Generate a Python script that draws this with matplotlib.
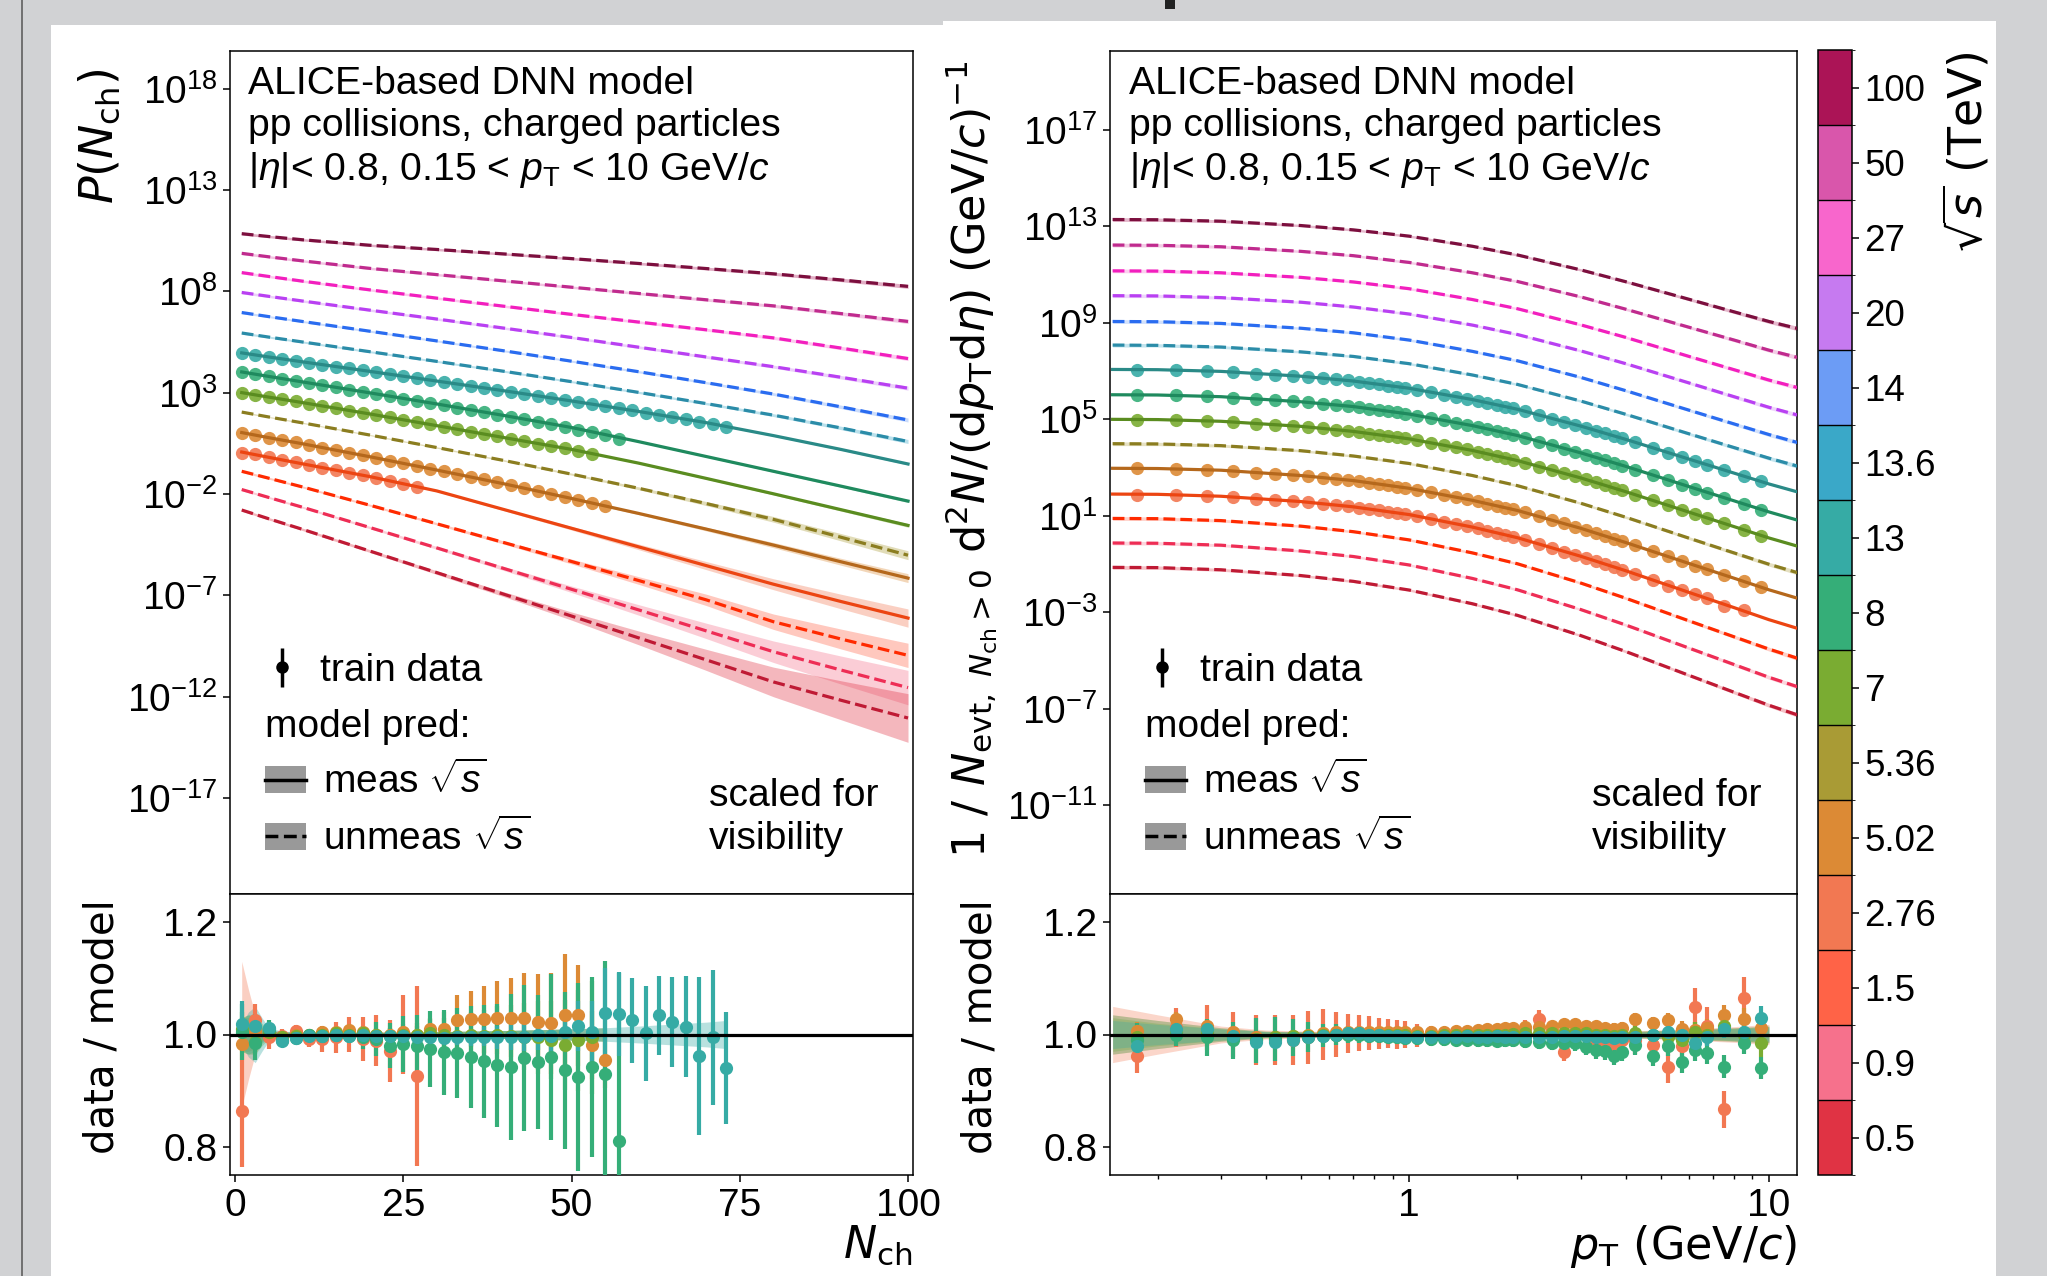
import numpy as np
import matplotlib
matplotlib.use("Agg")
import matplotlib.pyplot as plt
from matplotlib import ticker
from matplotlib.colors import ListedColormap, BoundaryNorm
from matplotlib.cm import ScalarMappable
from matplotlib.patches import Rectangle, Patch
from matplotlib.lines import Line2D

plt.rcParams['font.family'] = ['Liberation Sans', 'DejaVu Sans']
plt.rcParams['mathtext.fontset'] = 'custom'
plt.rcParams['mathtext.rm'] = 'Liberation Sans'
plt.rcParams['mathtext.it'] = 'Liberation Sans:italic'
plt.rcParams['mathtext.bf'] = 'Liberation Sans:bold'
plt.rcParams['mathtext.sf'] = 'Liberation Sans'

# ---------------- data ----------------
ENERGY_LABELS = ['100', '50', '27', '20', '14', '13.6', '13', '8', '7', '5.36', '5.02', '2.76', '1.5', '0.9', '0.5']
MEASURED = [False, False, False, False, False, False, True, True, True, False, True, True, False, False, False]
BAR_COLORS = ['#ab1456', '#d956ab', '#f866cc', '#c67af0', '#6c9cf5', '#3aa8c8', '#36aba5', '#35ae78',
              '#7aac32', '#a99b35', '#dc8a35', '#f27852', '#ff6347', '#f6718c', '#e03344']
LINE_COLORS = ['#7c0f3e', '#c02b8e', '#f21fbe', '#b940f2', '#2a6cf0', '#2b8ca8', '#2a8a87', '#1f8a5e',
               '#5a8c20', '#8b7d20', '#b5681c', '#ec4512', '#ff2a00', '#ee2d55', '#bf1a34']

# multiplicity distributions, log10 P(Nch) (scaled for visibility)
NCH_KNOTS = [1, 5, 10, 20, 30, 40, 50, 60, 70, 80, 90, 100]
NCH_E100 = [10.84, 10.70, 10.54, 10.27, 10.06, 9.84, 9.61, 9.37, 9.12, 8.86, 8.56, 8.24]
NCH_E50 = [9.87, 9.70, 9.50, 9.13, 8.82, 8.51, 8.20, 7.89, 7.58, 7.28, 6.90, 6.51]
NCH_E27 = [8.92, 8.73, 8.50, 8.07, 7.66, 7.26, 6.86, 6.48, 6.10, 5.70, 5.20, 4.68]
NCH_E20 = [7.94, 7.75, 7.52, 7.07, 6.63, 6.18, 5.72, 5.24, 4.76, 4.28, 3.76, 3.22]
NCH_E14 = [6.95, 6.75, 6.51, 6.03, 5.55, 5.06, 4.55, 4.03, 3.49, 2.93, 2.30, 1.65]
NCH_E136 = [5.94, 5.74, 5.50, 5.02, 4.54, 4.05, 3.54, 3.01, 2.46, 1.89, 1.26, 0.59]
NCH_E13 = [4.96, 4.76, 4.52, 4.05, 3.57, 3.09, 2.59, 2.07, 1.52, 0.88, 0.20, -0.52]
NCH_E8 = [4.02, 3.80, 3.53, 2.99, 2.44, 1.87, 1.28, 0.58, -0.15, -0.88, -1.61, -2.35]
NCH_E7 = [3.00, 2.78, 2.51, 1.95, 1.37, 0.78, 0.20, -0.48, -1.23, -1.99, -2.77, -3.55]
NCH_E536 = [2.04, 1.80, 1.51, 0.91, 0.29, -0.35, -1.02, -1.72, -2.47, -3.25, -4.13, -5.02]
NCH_E502 = [1.03, 0.78, 0.48, -0.16, -0.82, -1.50, -2.22, -2.96, -3.73, -4.52, -5.34, -6.15]
NCH_E276 = [0.07, -0.19, -0.51, -1.14, -1.85, -2.77, -3.69, -4.61, -5.53, -6.45, -7.30, -8.12]
NCH_E15 = [-0.88, -1.22, -1.65, -2.55, -3.47, -4.40, -5.33, -6.27, -7.22, -8.30, -9.15, -9.96]
NCH_E09 = [-1.78, -2.17, -2.65, -3.65, -4.66, -5.68, -6.70, -7.72, -8.75, -9.78, -10.68, -11.55]
NCH_E05 = [-2.79, -3.22, -3.74, -4.81, -5.88, -6.95, -8.02, -9.10, -10.18, -11.27, -12.17, -13.05]

# model uncertainty half-widths (decades)
NCH_BAND_HIGH = [0.07, 0.06, 0.06, 0.06, 0.06, 0.06, 0.06, 0.065, 0.07, 0.075, 0.085, 0.1]
NCH_BAND_14 = [0.06, 0.05, 0.05, 0.05, 0.05, 0.05, 0.05, 0.055, 0.06, 0.07, 0.085, 0.1]
NCH_BAND_13 = [0.03, 0.02, 0.02, 0.02, 0.02, 0.02, 0.02, 0.025, 0.03, 0.035, 0.04, 0.05]
NCH_BAND_8 = [0.03, 0.02, 0.02, 0.02, 0.02, 0.02, 0.025, 0.03, 0.035, 0.045, 0.055, 0.07]
NCH_BAND_7 = [0.03, 0.02, 0.02, 0.02, 0.02, 0.02, 0.025, 0.03, 0.04, 0.055, 0.07, 0.09]
NCH_BAND_536 = [0.04, 0.03, 0.03, 0.03, 0.035, 0.04, 0.05, 0.07, 0.1, 0.14, 0.18, 0.22]
NCH_BAND_502 = [0.03, 0.02, 0.02, 0.02, 0.025, 0.03, 0.04, 0.06, 0.09, 0.13, 0.17, 0.22]
NCH_BAND_276 = [0.05, 0.03, 0.03, 0.03, 0.04, 0.06, 0.09, 0.14, 0.2, 0.27, 0.36, 0.45]
NCH_BAND_15 = [0.06, 0.05, 0.05, 0.05, 0.06, 0.08, 0.12, 0.19, 0.28, 0.38, 0.49, 0.6]
NCH_BAND_09 = [0.06, 0.05, 0.05, 0.06, 0.07, 0.1, 0.16, 0.26, 0.38, 0.53, 0.69, 0.85]
NCH_BAND_05 = [0.06, 0.06, 0.06, 0.07, 0.09, 0.12, 0.2, 0.34, 0.52, 0.73, 0.96, 1.2]

# pT spectra, log10 of yield (scaled for visibility)
PT_KNOTS = [0.15, 0.2, 0.3, 0.5, 0.7, 1.0, 1.5, 2.0, 3.0, 4.0, 6.0, 8.0, 10.0, 12.0]
PT_E100 = [13.29, 13.28, 13.22, 13.04, 12.86, 12.60, 12.18, 11.82, 11.20, 10.71, 9.98, 9.46, 9.06, 8.77]
PT_E50 = [12.23, 12.22, 12.16, 11.97, 11.79, 11.51, 11.08, 10.72, 10.08, 9.57, 8.82, 8.29, 7.87, 7.57]
PT_E27 = [11.16, 11.15, 11.08, 10.89, 10.70, 10.42, 9.97, 9.59, 8.92, 8.40, 7.61, 7.06, 6.63, 6.32]
PT_E20 = [10.13, 10.12, 10.05, 9.86, 9.66, 9.37, 8.91, 8.52, 7.84, 7.31, 6.51, 5.94, 5.50, 5.18]
PT_E14 = [9.06, 9.05, 8.98, 8.78, 8.59, 8.29, 7.82, 7.43, 6.74, 6.19, 5.38, 4.81, 4.37, 4.04]
PT_E136 = [8.08, 8.07, 8.00, 7.80, 7.61, 7.31, 6.84, 6.45, 5.76, 5.21, 4.40, 3.83, 3.39, 3.06]
PT_E13 = [7.07, 7.06, 6.99, 6.79, 6.59, 6.29, 5.82, 5.42, 4.72, 4.17, 3.35, 2.77, 2.32, 1.99]
PT_E8 = [6.02, 6.01, 5.94, 5.73, 5.53, 5.22, 4.74, 4.33, 3.61, 3.05, 2.21, 1.62, 1.16, 0.82]
PT_E7 = [5.00, 4.99, 4.92, 4.71, 4.50, 4.19, 3.71, 3.29, 2.57, 2.00, 1.15, 0.55, 0.08, -0.26]
PT_E536 = [3.99, 3.98, 3.91, 3.70, 3.48, 3.17, 2.67, 2.25, 1.52, 0.94, 0.07, -0.54, -1.01, -1.36]
PT_E502 = [2.97, 2.96, 2.89, 2.67, 2.46, 2.14, 1.64, 1.22, 0.48, -0.11, -0.98, -1.59, -2.07, -2.42]
PT_E276 = [1.90, 1.89, 1.81, 1.59, 1.37, 1.05, 0.53, 0.09, -0.68, -1.28, -2.18, -2.81, -3.31, -3.67]
PT_E15 = [0.89, 0.88, 0.80, 0.57, 0.34, 0.00, -0.54, -0.99, -1.79, -2.42, -3.36, -4.02, -4.53, -4.91]
PT_E09 = [-0.13, -0.14, -0.22, -0.46, -0.69, -1.04, -1.60, -2.07, -2.89, -3.53, -4.49, -5.17, -5.70, -6.09]
PT_E05 = [-1.14, -1.15, -1.24, -1.48, -1.72, -2.08, -2.65, -3.13, -3.97, -4.63, -5.62, -6.32, -6.86, -7.26]
PT_BAND_MEAS = [0.03, 0.02, 0.01, 0.008, 0.008, 0.008, 0.008, 0.008, 0.01, 0.012, 0.015, 0.02, 0.025, 0.03]
PT_BAND_UNMEAS = [0.08, 0.07, 0.06, 0.05, 0.05, 0.05, 0.05, 0.05, 0.05, 0.055, 0.06, 0.07, 0.08, 0.09]

# training data: data / model ratios (multiplicity)
NCH_N_13 = [1, 3, 5, 7, 9, 11, 13, 15, 17, 19, 21, 23, 25, 27, 29, 31, 33, 35, 37, 39, 41, 43, 45, 47, 49,
            51, 53, 55, 57, 59, 61, 63, 65, 67, 69, 71, 73]
NCH_RATIO_13 = [1.019, 1.016, 1.012, 0.989, 0.994, 0.998, 0.998, 1.000, 0.998, 1.000, 0.998, 0.997, 0.998,
                0.996, 0.995, 0.994, 0.995, 0.995, 0.996, 0.995, 0.995, 0.996, 1.000, 0.998, 1.005, 1.015,
                1.005, 1.038, 1.036, 1.025, 1.002, 1.034, 1.022, 1.014, 0.962, 0.995, 0.940]
NCH_ERR_13 = [0.04, 0.02, 0.01, 0.006, 0.005, 0.005, 0.005, 0.005, 0.005, 0.006, 0.006, 0.007, 0.008, 0.009,
              0.01, 0.011, 0.013, 0.015, 0.017, 0.02, 0.022, 0.025, 0.028, 0.032, 0.036, 0.045, 0.055, 0.08,
              0.075, 0.075, 0.085, 0.07, 0.08, 0.09, 0.14, 0.12, 0.1]
NCH_N_8 = [1, 3, 5, 7, 9, 11, 13, 15, 17, 19, 21, 23, 25, 27, 29, 31, 33, 35, 37, 39, 41, 43, 45, 47, 49,
           51, 53, 55, 57]
NCH_RATIO_8 = [1.005, 0.985, 1.010, 0.990, 0.993, 1.000, 0.998, 1.000, 0.998, 0.995, 0.992, 0.980, 0.983,
               0.980, 0.974, 0.968, 0.967, 0.960, 0.952, 0.945, 0.942, 0.958, 0.951, 0.960, 0.936, 0.925,
               0.942, 0.930, 0.810]
NCH_ERR_8 = [0.05, 0.03, 0.015, 0.01, 0.01, 0.01, 0.01, 0.01, 0.012, 0.02, 0.03, 0.04, 0.05, 0.055, 0.068,
             0.075, 0.08, 0.09, 0.1, 0.11, 0.13, 0.13, 0.12, 0.147, 0.14, 0.167, 0.16, 0.2, 0.3]
NCH_N_7 = [1, 3, 5, 7, 9, 11, 13, 15, 17, 19, 21, 23, 25, 27, 29, 31, 33, 35, 37, 39, 41, 43, 45, 47, 49,
           51, 53]
NCH_RATIO_7 = [1.010, 0.986, 1.005, 0.995, 0.998, 1.000, 1.000, 1.002, 1.000, 1.002, 1.000, 0.998, 1.000,
               1.000, 1.002, 1.000, 0.998, 1.000, 0.998, 1.000, 0.998, 0.996, 0.995, 0.990, 0.982, 0.990,
               0.995]
NCH_ERR_7 = [0.03, 0.02, 0.01, 0.008, 0.008, 0.008, 0.008, 0.008, 0.009, 0.01, 0.011, 0.013, 0.016, 0.02,
             0.025, 0.03, 0.035, 0.04, 0.045, 0.05, 0.055, 0.06, 0.065, 0.07, 0.08, 0.09, 0.1]
NCH_N_502 = [1, 3, 5, 7, 9, 11, 13, 15, 17, 19, 21, 23, 25, 27, 29, 31, 33, 35, 37, 39, 41, 43, 45, 47, 49,
             51, 53, 55]
NCH_RATIO_502 = [0.983, 1.005, 1.005, 0.990, 1.000, 1.000, 1.005, 1.005, 1.008, 1.005, 1.000, 1.000, 1.005,
                 1.000, 1.010, 1.010, 1.026, 1.028, 1.027, 1.030, 1.030, 1.030, 1.022, 1.020, 1.034, 1.034,
                 0.981, 0.954]
NCH_ERR_502 = [0.02, 0.01, 0.008, 0.006, 0.006, 0.006, 0.006, 0.007, 0.008, 0.009, 0.01, 0.012, 0.013, 0.015,
               0.02, 0.03, 0.045, 0.05, 0.06, 0.065, 0.07, 0.08, 0.085, 0.09, 0.11, 0.09, 0.06, 0.05]
NCH_N_276 = [1, 3, 5, 7, 9, 11, 13, 15, 17, 19, 21, 23, 25, 27]
NCH_RATIO_276 = [0.864, 1.025, 0.995, 0.998, 1.007, 0.992, 0.992, 0.995, 1.000, 0.992, 0.989, 0.970, 1.000, 0.926]
NCH_ERR_276 = [0.1, 0.03, 0.02, 0.012, 0.01, 0.015, 0.024, 0.028, 0.031, 0.04, 0.045, 0.055, 0.07, 0.16]

# ratio-panel model bands (multiplicity)
NCH_RB_N = [1, 2, 3, 4, 5, 7, 10, 20, 27, 30, 40, 50, 55, 60, 70, 73]
NCH_RB_13 = [0.02, 0.04, 0.05, 0.03, 0.012, 0.006, 0.004, 0.004, 0.004, 0.005, 0.007, 0.01, 0.012, 0.015, 0.022, 0.025]
NCH_RB_8 = [0.03, 0.035, 0.03, 0.015, 0.008, 0.005, 0.004, 0.004, 0.004, 0.005, 0.007, 0.01, 0.012]
NCH_RB_7 = [0.03, 0.035, 0.035, 0.02, 0.008, 0.005, 0.004, 0.004, 0.004, 0.005, 0.007, 0.01]
NCH_RB_502 = [0.03, 0.03, 0.025, 0.012, 0.006, 0.004, 0.004, 0.004, 0.004, 0.005, 0.007, 0.01, 0.012]
NCH_RB_276 = [0.13, 0.08, 0.035, 0.012, 0.006, 0.004, 0.004, 0.004, 0.005]

# training data: data / model ratios (pT)
PT_CENTERS = [0.175, 0.225, 0.275, 0.325, 0.375, 0.425, 0.475, 0.525, 0.575, 0.625, 0.675, 0.725, 0.775,
              0.825, 0.875, 0.925, 0.975, 1.05, 1.15, 1.25, 1.35, 1.45, 1.55, 1.65, 1.75, 1.85, 1.95,
              2.1, 2.3, 2.5, 2.7, 2.9, 3.1, 3.3, 3.5, 3.7, 3.9, 4.25, 4.75, 5.25, 5.75, 6.25, 6.75,
              7.5, 8.5, 9.5]
PT_RATIO_13 = [0.979, 1.010, 1.010, 0.998, 0.986, 0.986, 0.990, 0.996, 0.998, 1.000, 1.002, 1.002, 1.000,
               1.000, 0.998, 0.998, 0.996, 0.995, 0.995, 0.996, 0.996, 0.997, 0.996, 0.996, 0.997, 0.996,
               0.996, 0.995, 0.995, 0.996, 0.997, 0.998, 0.997, 0.996, 0.995, 0.994, 0.995, 0.995, 1.000,
               1.005, 1.000, 0.985, 0.995, 1.009, 1.005, 1.030]
PT_ERR_13 = [0.02, 0.015, 0.012, 0.01, 0.01, 0.01, 0.008, 0.008, 0.007, 0.007, 0.006, 0.006, 0.006, 0.006,
             0.006, 0.006, 0.006, 0.006, 0.006, 0.006, 0.006, 0.006, 0.006, 0.006, 0.006, 0.006, 0.006,
             0.007, 0.007, 0.007, 0.007, 0.007, 0.008, 0.008, 0.008, 0.009, 0.009, 0.01, 0.01, 0.012,
             0.012, 0.014, 0.015, 0.015, 0.018, 0.02]
PT_RATIO_8 = [0.990, 1.000, 0.995, 0.990, 0.990, 0.992, 0.994, 0.996, 0.998, 1.000, 1.000, 1.000, 0.998,
              0.998, 0.996, 0.995, 0.994, 0.993, 0.992, 0.992, 0.991, 0.991, 0.990, 0.990, 0.989, 0.990,
              0.990, 0.988, 0.987, 0.985, 0.984, 0.985, 0.978, 0.972, 0.970, 0.962, 0.968, 0.981, 0.962,
              0.980, 0.951, 0.972, 0.967, 0.943, 0.985, 0.940]
PT_ERR_8 = [0.03, 0.02, 0.033, 0.033, 0.04, 0.04, 0.033, 0.027, 0.02, 0.018, 0.016, 0.015, 0.014, 0.013,
            0.012, 0.012, 0.012, 0.012, 0.012, 0.012, 0.012, 0.012, 0.012, 0.012, 0.012, 0.012, 0.012,
            0.012, 0.012, 0.013, 0.013, 0.014, 0.014, 0.015, 0.015, 0.016, 0.016, 0.017, 0.018, 0.019,
            0.02, 0.02, 0.02, 0.02, 0.02, 0.02]
PT_RATIO_7 = [0.995, 1.005, 1.005, 0.995, 0.992, 0.995, 0.997, 0.998, 1.000, 1.000, 1.001, 1.001, 1.000,
              1.000, 1.000, 1.000, 0.999, 0.998, 0.998, 0.999, 0.999, 1.000, 1.000, 1.000, 1.000, 1.000,
              1.001, 1.002, 1.003, 1.003, 1.002, 1.003, 1.002, 1.000, 1.000, 0.998, 1.000, 1.002, 1.000,
              0.995, 0.990, 1.005, 1.000, 1.016, 1.000, 0.985]
PT_ERR_7 = [0.015, 0.012, 0.012, 0.012, 0.012, 0.012, 0.01, 0.01, 0.009, 0.009, 0.008, 0.008, 0.008, 0.008,
            0.008, 0.008, 0.008, 0.008, 0.008, 0.008, 0.008, 0.008, 0.008, 0.008, 0.008, 0.008, 0.008,
            0.008, 0.008, 0.009, 0.009, 0.01, 0.01, 0.01, 0.011, 0.011, 0.012, 0.013, 0.014, 0.015,
            0.016, 0.017, 0.018, 0.02, 0.022, 0.025]
PT_RATIO_502 = [1.007, 1.028, 1.016, 1.005, 0.995, 0.995, 0.997, 1.000, 1.002, 1.004, 1.005, 1.005, 1.004,
                1.004, 1.005, 1.005, 1.005, 1.004, 1.004, 1.005, 1.006, 1.007, 1.008, 1.009, 1.010, 1.011,
                1.012, 1.013, 1.014, 1.016, 1.018, 1.018, 1.016, 1.015, 1.012, 1.010, 1.012, 1.027, 1.020,
                1.025, 1.010, 1.008, 1.012, 1.034, 1.027, 1.012]
PT_ERR_502 = [0.015, 0.012, 0.01, 0.01, 0.01, 0.01, 0.008, 0.008, 0.007, 0.007, 0.006, 0.006, 0.006, 0.006,
              0.006, 0.006, 0.006, 0.006, 0.006, 0.006, 0.006, 0.006, 0.006, 0.006, 0.006, 0.006, 0.006,
              0.007, 0.007, 0.007, 0.008, 0.008, 0.008, 0.009, 0.009, 0.01, 0.01, 0.011, 0.012, 0.013,
              0.014, 0.015, 0.016, 0.018, 0.02, 0.022]
PT_RATIO_276 = [0.961, 1.013, 1.012, 1.000, 0.990, 0.990, 0.990, 0.995, 1.000, 1.000, 1.002, 1.003, 1.003,
                1.002, 1.002, 1.000, 1.000, 0.998, 0.997, 0.996, 0.997, 0.998, 1.000, 1.000, 1.002, 1.004,
                1.005, 1.010, 1.027, 1.008, 0.969, 1.005, 1.000, 0.990, 0.985, 0.982, 0.990, 0.990, 0.982,
                0.943, 0.980, 1.049, 1.016, 0.867, 1.065]
PT_ERR_276 = [0.03, 0.035, 0.04, 0.04, 0.045, 0.045, 0.045, 0.047, 0.045, 0.04, 0.035, 0.032, 0.03, 0.028,
              0.026, 0.025, 0.024, 0.02, 0.018, 0.017, 0.016, 0.015, 0.015, 0.015, 0.015, 0.015, 0.015,
              0.015, 0.016, 0.016, 0.017, 0.018, 0.019, 0.02, 0.021, 0.022, 0.023, 0.025, 0.027, 0.029,
              0.031, 0.033, 0.033, 0.033, 0.038]

# ratio-panel model bands (pT)
PT_RB_X = [0.15, 0.2, 0.3, 0.4, 0.6, 1.0, 2.0, 4.0, 6.0, 8.0, 10.0]
PT_RB_276 = [0.05, 0.035, 0.015, 0.008, 0.005, 0.004, 0.004, 0.006, 0.01, 0.014, 0.018]
PT_RB_502 = [0.035, 0.025, 0.012, 0.006, 0.004, 0.003, 0.003, 0.005, 0.009, 0.012, 0.015]
PT_RB_7 = [0.03, 0.02, 0.01, 0.005, 0.004, 0.003, 0.003, 0.005, 0.008, 0.011, 0.014]
PT_RB_8 = [0.035, 0.025, 0.012, 0.006, 0.004, 0.003, 0.003, 0.005, 0.009, 0.012, 0.015]
PT_RB_13 = [0.025, 0.018, 0.01, 0.005, 0.003, 0.003, 0.003, 0.004, 0.007, 0.01, 0.012]

# ---------------- assemble ----------------
NCH_CURVES = [NCH_E100, NCH_E50, NCH_E27, NCH_E20, NCH_E14, NCH_E136, NCH_E13, NCH_E8, NCH_E7,
              NCH_E536, NCH_E502, NCH_E276, NCH_E15, NCH_E09, NCH_E05]
NCH_BANDS = [NCH_BAND_HIGH, NCH_BAND_HIGH, NCH_BAND_HIGH, NCH_BAND_HIGH, NCH_BAND_14, NCH_BAND_14,
             NCH_BAND_13, NCH_BAND_8, NCH_BAND_7, NCH_BAND_536, NCH_BAND_502, NCH_BAND_276,
             NCH_BAND_15, NCH_BAND_09, NCH_BAND_05]
PT_CURVES = [PT_E100, PT_E50, PT_E27, PT_E20, PT_E14, PT_E136, PT_E13, PT_E8, PT_E7, PT_E536, PT_E502,
             PT_E276, PT_E15, PT_E09, PT_E05]
# measured series drawn in this order (low energy first, so 13 TeV on top)
NCH_DATA = {'2.76': (NCH_N_276, NCH_RATIO_276, NCH_ERR_276, NCH_RB_276),
            '5.02': (NCH_N_502, NCH_RATIO_502, NCH_ERR_502, NCH_RB_502),
            '7': (NCH_N_7, NCH_RATIO_7, NCH_ERR_7, NCH_RB_7),
            '8': (NCH_N_8, NCH_RATIO_8, NCH_ERR_8, NCH_RB_8),
            '13': (NCH_N_13, NCH_RATIO_13, NCH_ERR_13, NCH_RB_13)}
PT_DATA = {'2.76': (PT_RATIO_276, PT_ERR_276, PT_RB_276),
           '5.02': (PT_RATIO_502, PT_ERR_502, PT_RB_502),
           '7': (PT_RATIO_7, PT_ERR_7, PT_RB_7),
           '8': (PT_RATIO_8, PT_ERR_8, PT_RB_8),
           '13': (PT_RATIO_13, PT_ERR_13, PT_RB_13)}

# ---------------- figure ----------------
W, H = 2047, 1276
GREY = '#d1d2d4'
fig = plt.figure(figsize=(W / 100, H / 100), dpi=100, facecolor=GREY)


def fx(px):
    return px / W


def fy(py):
    return 1 - py / H


fig.add_artist(Rectangle((fx(51), 0), fx(943) - fx(51), fy(25), transform=fig.transFigure,
                         facecolor='white', edgecolor='none', zorder=-10))
fig.add_artist(Rectangle((fx(943), 0), fx(1996) - fx(943), fy(21), transform=fig.transFigure,
                         facecolor='white', edgecolor='none', zorder=-10))
fig.add_artist(Rectangle((fx(1996), 0), 1 - fx(1996), 1, transform=fig.transFigure,
                         facecolor=GREY, edgecolor='none', zorder=50))
fig.add_artist(Line2D([fx(21.5), fx(21.5)], [0, 1], transform=fig.transFigure, color='#707070', lw=1.4))
fig.add_artist(Rectangle((fx(1165), fy(9)), fx(10), 9 / H, transform=fig.transFigure,
                         facecolor='#222222', edgecolor='none', zorder=50))

axL = fig.add_axes([fx(230), fy(894), fx(913) - fx(230), (894 - 51) / H])
axLR = fig.add_axes([fx(230), fy(1175), fx(913) - fx(230), (1175 - 894) / H], sharex=axL)
axR = fig.add_axes([fx(1110), fy(894), fx(1797) - fx(1110), (894 - 51) / H])
axRR = fig.add_axes([fx(1110), fy(1175), fx(1797) - fx(1110), (1175 - 894) / H], sharex=axR)
cax = fig.add_axes([fx(1818), fy(1175), fx(1852) - fx(1818), (1175 - 50) / H])

LW = 2.3
MS = 9.5
idx = {lab: i for i, lab in enumerate(ENERGY_LABELS)}

# ---- top left: multiplicity ----
nk = np.array(NCH_KNOTS, float)
for i, lab in enumerate(ENERGY_LABELS):
    lg = np.array(NCH_CURVES[i])
    w = np.array(NCH_BANDS[i])
    axL.fill_between(nk, 10 ** (lg - w), 10 ** (lg + w), color=BAR_COLORS[i], alpha=0.35, lw=0, zorder=1)
    axL.plot(nk, 10 ** lg, color=LINE_COLORS[i], lw=LW, ls='-' if MEASURED[i] else '--', zorder=3)

for lab, (nn, rr, ee, rb) in NCH_DATA.items():
    i = idx[lab]
    nn = np.array(nn, float)
    model = 10 ** np.interp(nn, nk, np.array(NCH_CURVES[i]))
    axL.plot(nn, model * np.array(rr), 'o', color=BAR_COLORS[i], ms=MS, mew=0, alpha=0.9, zorder=2)
    bx = np.array(NCH_RB_N[:len(rb)], float)
    axLR.fill_between(bx, 1 - np.array(rb), 1 + np.array(rb), color=BAR_COLORS[i], alpha=0.35, lw=0, zorder=1)
    axLR.errorbar(nn, rr, yerr=ee, fmt='o', color=BAR_COLORS[i], ms=MS, mew=0, elinewidth=3.0,
                  capsize=0, zorder=3)
axLR.axhline(1.0, color='k', lw=2.3, zorder=4)

# ---- top right: pT spectra ----
pk = np.array(PT_KNOTS, float)
for i, lab in enumerate(ENERGY_LABELS):
    lg = np.array(PT_CURVES[i])
    w = np.array(PT_BAND_MEAS if MEASURED[i] else PT_BAND_UNMEAS)
    axR.fill_between(pk, 10 ** (lg - w), 10 ** (lg + w), color=BAR_COLORS[i], alpha=0.3, lw=0, zorder=1)
    axR.plot(pk, 10 ** lg, color=LINE_COLORS[i], lw=LW, ls='-' if MEASURED[i] else '--', zorder=3)

pc = np.array(PT_CENTERS, float)
for lab, (rr, ee, rb) in PT_DATA.items():
    i = idx[lab]
    x = pc[:len(rr)]
    model = 10 ** np.interp(np.log10(x), np.log10(pk), np.array(PT_CURVES[i]))
    axR.plot(x, model * np.array(rr), 'o', color=BAR_COLORS[i], ms=MS, mew=0, alpha=0.9, zorder=2)
    axRR.fill_between(PT_RB_X, 1 - np.array(rb), 1 + np.array(rb), color=BAR_COLORS[i], alpha=0.3,
                      lw=0, zorder=1)
    axRR.errorbar(x, rr, yerr=ee, fmt='o', color=BAR_COLORS[i], ms=MS, mew=0, elinewidth=3.0,
                  capsize=0, zorder=3)
axRR.axhline(1.0, color='k', lw=2.3, zorder=4)

# ---- axes formatting ----
LABEL_KW = dict(fontfamily='DejaVu Sans', math_fontfamily='dejavusans')


def logfmt(v, p):
    return r'$\mathdefault{10^{%d}}$' % int(round(np.log10(v)))


for ax in (axL, axLR, axR, axRR):
    for s in ax.spines.values():
        s.set_linewidth(1.1)
    ax.tick_params(direction='out', length=5, width=1.1, pad=4)

axL.set_yscale('log')
axL.set_ylim(10 ** -21.73, 10 ** 19.85)
axL.yaxis.set_major_locator(ticker.FixedLocator([10.0 ** k for k in range(-17, 19, 5)]))
axL.yaxis.set_minor_locator(ticker.NullLocator())
axL.yaxis.set_major_formatter(ticker.FuncFormatter(logfmt))
axL.tick_params(axis='y', labelsize=28)
axL.tick_params(axis='x', bottom=False, labelbottom=False)
axL.set_xlim(-0.74, 100.74)

axLR.set_ylim(0.75, 1.25)
axLR.set_yticks([0.8, 1.0, 1.2])
axLR.yaxis.set_major_formatter(ticker.FormatStrFormatter('%.1f'))
axLR.set_xticks([0, 25, 50, 75, 100])
axLR.tick_params(labelsize=28)

axR.set_xscale('log')
axR.set_yscale('log')
axR.set_xlim(0.1475, 11.97)
axR.set_ylim(10 ** -14.69, 10 ** 20.28)
axR.yaxis.set_major_locator(ticker.FixedLocator([10.0 ** k for k in range(-11, 18, 4)]))
axR.yaxis.set_minor_locator(ticker.NullLocator())
axR.yaxis.set_major_formatter(ticker.FuncFormatter(logfmt))
axR.tick_params(axis='y', labelsize=28)
axR.tick_params(axis='x', which='both', bottom=False, labelbottom=False)

axRR.set_ylim(0.75, 1.25)
axRR.set_yticks([0.8, 1.0, 1.2])
axRR.yaxis.set_major_formatter(ticker.FormatStrFormatter('%.1f'))
axRR.xaxis.set_major_locator(ticker.FixedLocator([1, 10]))
axRR.xaxis.set_major_formatter(ticker.FuncFormatter(lambda v, p: '%g' % v))
axRR.xaxis.set_minor_locator(ticker.LogLocator(base=10, subs=np.arange(2, 10)))
axRR.xaxis.set_minor_formatter(ticker.NullFormatter())
axRR.tick_params(labelsize=28)
axRR.tick_params(axis='x', which='minor', direction='out', length=2.8, width=1.0)

# labels
axL.set_ylabel(r'$P(N_{\rm ch})$', fontsize=33, **LABEL_KW)
axL.yaxis.set_label_coords(-0.158, 0.899)
axR.set_ylabel(r'$1\ /\ N_{{\rm evt},\ N_{\rm ch}>0}\ {\rm d}^2N/({\rm d}p_{\rm T}{\rm d}\eta)$ (GeV/$c$)$^{-1}$',
               fontsize=32, **LABEL_KW)
axR.yaxis.set_label_coords(-0.160, 0.515)
axLR.set_ylabel('data / model', fontsize=29, **LABEL_KW)
axLR.yaxis.set_label_coords(-0.157, 0.527)
axRR.set_ylabel('data / model', fontsize=29, **LABEL_KW)
axRR.yaxis.set_label_coords(-0.160, 0.527)
axLR.set_xlabel(r'$N_{\rm ch}$', fontsize=32, loc='right', labelpad=0, **LABEL_KW)
axRR.set_xlabel(r'$p_{\rm T}$ (GeV/$c$)', fontsize=32, loc='right', labelpad=0, **LABEL_KW)

# annotations
INFO = 'ALICE-based DNN model\npp collisions, charged particles\n' \
       r'$|\eta|$< 0.8, 0.15 < $p_{\rm T}$ < 10 GeV/$c$'
for ax, xt in ((axL, 0.026), (axR, 0.027)):
    ax.text(xt, 0.982, INFO, transform=ax.transAxes, ha='left', va='top', fontsize=28.2, linespacing=1.21)
    ax.text(0.701, 0.044, 'scaled for\nvisibility', transform=ax.transAxes, ha='left', va='bottom',
            fontsize=28.2, linespacing=1.24)

# legends
for ax in (axL, axR):
    eb = ax.errorbar([np.nan], [np.nan], yerr=[np.nan], fmt='o', color='k', ms=9, mew=0,
                     elinewidth=2.5, capsize=0)
    legA = ax.legend([eb], ['train data'], loc='upper left', bbox_to_anchor=(0.046, 0.286),
                     frameon=False, fontsize=28, handlelength=1.05, handletextpad=0.45,
                     borderpad=0, borderaxespad=0)
    ax.add_artist(legA)
    gp = Patch(facecolor='#999999', edgecolor='none')
    l1 = Line2D([], [], color='k', lw=2.5, ls='-')
    l2 = Line2D([], [], color='k', lw=2.5, ls='--')
    ax.legend([(gp, l1), (gp, l2)], [r'meas $\sqrt{s}$', r'unmeas $\sqrt{s}$'], title='model pred:',
              title_fontsize=28, alignment='left', loc='upper left', bbox_to_anchor=(0.051, 0.220),
              frameon=False, fontsize=28, handlelength=1.05, handletextpad=0.45, labelspacing=0.44,
              borderpad=0, borderaxespad=0)

# colorbar
cmap = ListedColormap(BAR_COLORS[::-1])
norm = BoundaryNorm(np.arange(len(ENERGY_LABELS) + 1), len(ENERGY_LABELS))
sm = ScalarMappable(norm=norm, cmap=cmap)
cb = fig.colorbar(sm, cax=cax, ticks=np.arange(len(ENERGY_LABELS)) + 0.5, drawedges=True)
cb.set_ticklabels(ENERGY_LABELS[::-1])
cb.outline.set_linewidth(1.1)
cb.dividers.set_linewidth(1.0)
cax.tick_params(labelsize=26.5, length=5, width=1.1, pad=4)
cb.set_label(r'$\sqrt{s}$ (TeV)', fontsize=33, **LABEL_KW)
cax.yaxis.set_label_coords(3.65, 0.91)

fig.savefig('out.png', dpi=100, facecolor=GREY)
